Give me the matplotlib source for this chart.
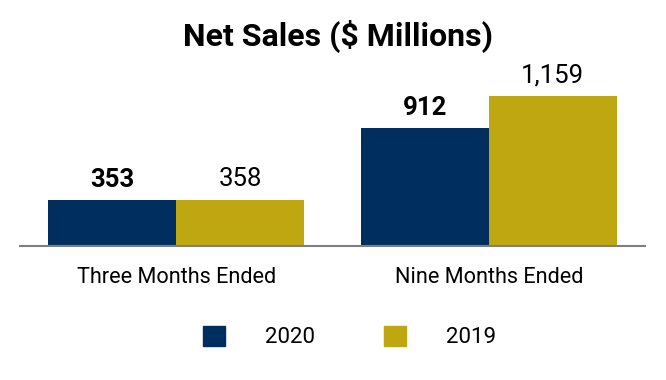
import numpy as np
import matplotlib.pyplot as plt
from matplotlib.patches import Patch

plt.rcParams['font.family'] = ['Roboto', 'DejaVu Sans']

categories = ["Three Months Ended", "Nine Months Ended"]
sales_2020 = [353, 912]
sales_2019 = [358, 1159]
labels_2020 = ["353", "912"]
labels_2019 = ["358", "1,159"]

navy = "#002F5F"
gold = "#BFA712"

fig = plt.figure(figsize=(6.66, 3.8), dpi=100)
ax = fig.add_axes([0.03, 0.3526, 0.9385, 0.4895])

x = np.arange(len(categories))
w = 0.41
b1 = ax.bar(x - w/2, sales_2020, w, color=navy)
b2 = ax.bar(x + w/2, sales_2019, w, color=gold)

for rect, lab in zip(b1, labels_2020):
    ax.annotate(lab, (rect.get_x() + rect.get_width()/2, rect.get_height()),
                xytext=(0, 6), textcoords="offset points", ha="center", va="bottom",
                fontsize=18.5, fontweight="bold")
for rect, lab in zip(b2, labels_2019):
    ax.annotate(lab, (rect.get_x() + rect.get_width()/2, rect.get_height()),
                xytext=(0, 6), textcoords="offset points", ha="center", va="bottom",
                fontsize=18.5)

ax.set_xlim(-0.5, 1.5)
ax.set_ylim(0, 1438)
ax.set_xticks(x)
ax.set_xticklabels(categories, fontsize=15.6)
ax.tick_params(axis="x", length=0, pad=15)
ax.set_yticks([])
for s in ["top", "left", "right"]:
    ax.spines[s].set_visible(False)
ax.spines["bottom"].set_color("#7f7f7f")
ax.spines["bottom"].set_linewidth(1.5)

fig.suptitle("Net Sales ($ Millions)", fontsize=23, fontweight="bold", x=0.508, y=0.947)

handles = [Patch(color=navy, label="2020"), Patch(color=gold, label="2019")]
fig.legend(handles=handles, loc="center", bbox_to_anchor=(0.525, 0.113), ncol=2,
           frameon=False, fontsize=16, handlelength=1.0, handleheight=1.0,
           handletextpad=1.8, columnspacing=3.1)

fig.savefig("out.png", dpi=100)
